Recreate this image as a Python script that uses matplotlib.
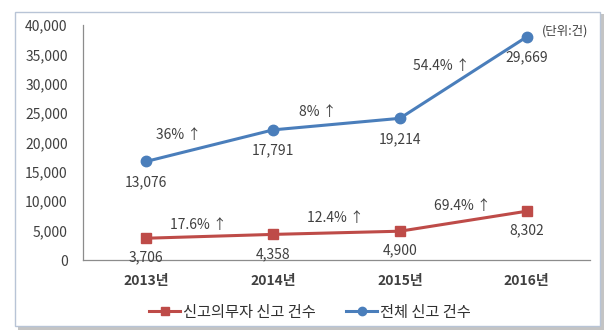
import matplotlib
matplotlib.use('Agg')
import matplotlib.pyplot as plt
from matplotlib.patches import Rectangle
from matplotlib.ticker import FuncFormatter

plt.rcParams['font.family'] = ['Noto Sans CJK KR', 'DejaVu Sans']

years = ['2013년', '2014년', '2015년', '2016년']
duty_reports = [3706, 4358, 4900, 8302]
total_reports = [13076, 17791, 19214, 29669]
duty_growth = ['17.6% ↑', '12.4% ↑', '69.4% ↑']
total_growth = ['36% ↑', '8% ↑', '54.4% ↑']

red = '#BE4B48'
blue = '#4A7EBB'
text_col = '#404040'

# total line is stacked on top of the duty-reporter line
stacked = [d + t for d, t in zip(duty_reports, total_reports)]
x = list(range(len(years)))

fig = plt.figure(figsize=(6.1, 3.35), dpi=100)

# outer frame with a soft shadow
fig.patches.append(Rectangle((18 / 610, 1 - 330 / 335), 586 / 610, 316 / 335,
                             transform=fig.transFigure, facecolor='#c4c4c4',
                             edgecolor='none', zorder=-3))
fig.patches.append(Rectangle((15 / 610, 1 - 326 / 335), 585 / 610, 314 / 335,
                             transform=fig.transFigure, facecolor='white',
                             edgecolor='#b8c4d6', linewidth=1, zorder=-2))

ax = fig.add_axes([83 / 610, 1 - 260 / 335, 507 / 610, 235 / 335])
ax.set_facecolor('none')

ax.plot(x, duty_reports, color=red, lw=2.2, marker='s', ms=7,
        label='신고의무자 신고 건수', zorder=3)
ax.plot(x, stacked, color=blue, lw=2.2, marker='o', ms=7.5,
        label='전체 신고 건수', zorder=3)

fs = 10
for xi, v in zip(x, duty_reports):
    ax.annotate(f'{v:,}', (xi, v), xytext=(0, -14), textcoords='offset points',
                ha='center', va='center', fontsize=fs, color=text_col)
for xi, v, s in zip(x, total_reports, stacked):
    ax.annotate(f'{v:,}', (xi, s), xytext=(0, -15), textcoords='offset points',
                ha='center', va='center', fontsize=fs, color=text_col)

duty_pos = [(0.41, 5950), (1.49, 7150), (2.49, 9200)]
total_pos = [(0.25, 21280), (1.35, 25200), (2.33, 33000)]
for (px, py), t in zip(duty_pos, duty_growth):
    ax.text(px, py, t, ha='center', va='center', fontsize=fs, color=text_col)
for (px, py), t in zip(total_pos, total_growth):
    ax.text(px, py, t, ha='center', va='center', fontsize=fs, color=text_col)

ax.text(3.3, 39000, '(단위:건)', ha='center', va='center', fontsize=9,
        color=text_col)

ax.set_xlim(-0.5, 3.5)
ax.set_ylim(0, 40000)
ax.set_xticks(x)
ax.set_xticklabels(years, fontsize=fs, color=text_col, fontweight='bold')
ax.set_yticks(range(0, 40001, 5000))
ax.yaxis.set_major_formatter(FuncFormatter(lambda v, p: f'{int(v):,}'))
ax.tick_params(axis='y', length=0, pad=11, labelsize=fs, labelcolor=text_col)
ax.tick_params(axis='x', length=0, pad=10)
for side in ['top', 'right']:
    ax.spines[side].set_visible(False)
for side in ['left', 'bottom']:
    ax.spines[side].set_color('#8c8c8c')
    ax.spines[side].set_linewidth(0.9)

leg = fig.legend(loc='center', bbox_to_anchor=(310 / 610, 1 - 312 / 335), ncol=2,
                 frameon=False, fontsize=11, handlelength=2.0, handletextpad=0.2,
                 columnspacing=2.0, markerscale=0.8)
for t in leg.get_texts():
    t.set_color('#303030')

fig.savefig('out.png', dpi=100)
